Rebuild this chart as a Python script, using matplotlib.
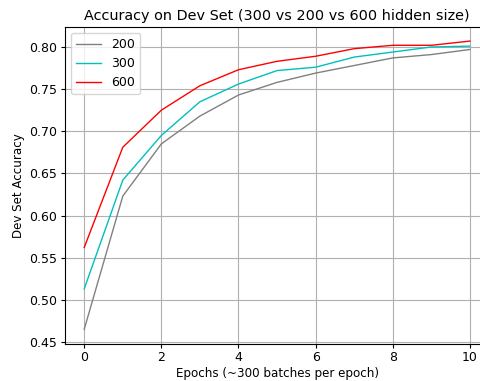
import matplotlib
matplotlib.use("Agg")
import matplotlib.pyplot as plt

epochs = list(range(11))
acc_200 = [0.465, 0.623, 0.685, 0.718, 0.743, 0.758, 0.769, 0.778, 0.787, 0.791, 0.797]
acc_300 = [0.513, 0.642, 0.695, 0.735, 0.756, 0.772, 0.776, 0.788, 0.794, 0.800, 0.801]
acc_600 = [0.562, 0.681, 0.725, 0.754, 0.773, 0.783, 0.789, 0.798, 0.802, 0.802, 0.807]

fig = plt.figure(figsize=(4.81, 3.81), dpi=100)
# the original image is cropped on the right, so the axes run past the edge
ax = fig.add_axes([0.135, 0.098, 0.882, 0.832])

ax.plot(epochs, acc_200, color="gray", linewidth=1, label="200")
ax.plot(epochs, acc_300, color="c", linewidth=1, label="300")
ax.plot(epochs, acc_600, color="red", linewidth=1, label="600")

ax.set_title("Accuracy on Dev Set (300 vs 200 vs 600 hidden size)", fontsize=10.4, pad=5)
ax.set_xlabel("Epochs (~300 batches per epoch)", fontsize=8.6, labelpad=2)
ax.set_ylabel("Dev Set Accuracy", fontsize=8.6, labelpad=3)
ax.tick_params(labelsize=9, length=3, pad=2.5)
ax.grid(True)
ax.legend(loc="upper left", fontsize=9)

plt.savefig("out.png")
